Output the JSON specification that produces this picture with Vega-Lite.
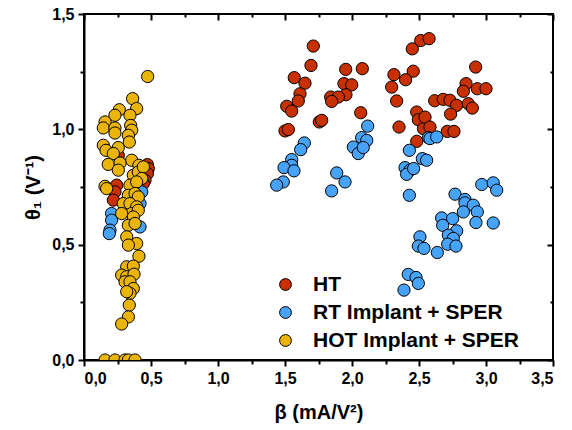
{
  "$schema": "https://vega.github.io/schema/vega-lite/v6.json",
  "width": 469,
  "height": 346,
  "autosize": "none",
  "padding": {"left": 84, "top": 14, "right": 19, "bottom": 70},
  "config": {
    "font": "Liberation Sans",
    "view": {"stroke": "black", "strokeWidth": 2},
    "axis": {
      "grid": false,
      "domainColor": "black",
      "domainWidth": 2,
      "tickColor": "black",
      "tickWidth": 2,
      "labelColor": "black",
      "labelFont": "Liberation Sans",
      "labelFontWeight": "bold",
      "labelFontSize": 16,
      "titleFont": "Liberation Sans",
      "titleFontWeight": "bold",
      "titleFontSize": 20,
      "titleColor": "black"
    }
  },
  "data": {"values": [
    {"beta": 1.711, "theta": 1.361, "group": "HT"},
    {"beta": 1.694, "theta": 1.277, "group": "HT"},
    {"beta": 1.569, "theta": 1.224, "group": "HT"},
    {"beta": 1.649, "theta": 1.200, "group": "HT"},
    {"beta": 1.612, "theta": 1.154, "group": "HT"},
    {"beta": 1.599, "theta": 1.123, "group": "HT"},
    {"beta": 1.513, "theta": 1.100, "group": "HT"},
    {"beta": 1.550, "theta": 1.079, "group": "HT"},
    {"beta": 1.500, "theta": 0.993, "group": "HT"},
    {"beta": 1.525, "theta": 0.999, "group": "HT"},
    {"beta": 1.756, "theta": 1.032, "group": "HT"},
    {"beta": 1.774, "theta": 1.039, "group": "HT"},
    {"beta": 1.953, "theta": 1.260, "group": "HT"},
    {"beta": 2.077, "theta": 1.263, "group": "HT"},
    {"beta": 1.940, "theta": 1.198, "group": "HT"},
    {"beta": 1.998, "theta": 1.193, "group": "HT"},
    {"beta": 1.955, "theta": 1.150, "group": "HT"},
    {"beta": 1.841, "theta": 1.140, "group": "HT"},
    {"beta": 1.898, "theta": 1.140, "group": "HT"},
    {"beta": 1.848, "theta": 1.121, "group": "HT"},
    {"beta": 2.065, "theta": 1.072, "group": "HT"},
    {"beta": 2.313, "theta": 1.237, "group": "HT"},
    {"beta": 2.457, "theta": 1.252, "group": "HT"},
    {"beta": 2.400, "theta": 1.215, "group": "HT"},
    {"beta": 2.296, "theta": 1.183, "group": "HT"},
    {"beta": 2.333, "theta": 1.123, "group": "HT"},
    {"beta": 2.351, "theta": 1.010, "group": "HT"},
    {"beta": 2.450, "theta": 1.349, "group": "HT"},
    {"beta": 2.513, "theta": 1.385, "group": "HT"},
    {"beta": 2.575, "theta": 1.393, "group": "HT"},
    {"beta": 2.483, "theta": 1.075, "group": "HT"},
    {"beta": 2.495, "theta": 1.042, "group": "HT"},
    {"beta": 2.533, "theta": 1.003, "group": "HT"},
    {"beta": 2.483, "theta": 0.948, "group": "HT"},
    {"beta": 2.923, "theta": 1.270, "group": "HT"},
    {"beta": 2.851, "theta": 1.198, "group": "HT"},
    {"beta": 2.831, "theta": 1.165, "group": "HT"},
    {"beta": 2.935, "theta": 1.176, "group": "HT"},
    {"beta": 3.000, "theta": 1.176, "group": "HT"},
    {"beta": 2.617, "theta": 1.124, "group": "HT"},
    {"beta": 2.681, "theta": 1.130, "group": "HT"},
    {"beta": 2.731, "theta": 1.126, "group": "HT"},
    {"beta": 2.781, "theta": 1.104, "group": "HT"},
    {"beta": 2.868, "theta": 1.111, "group": "HT"},
    {"beta": 2.898, "theta": 1.092, "group": "HT"},
    {"beta": 2.736, "theta": 1.066, "group": "HT"},
    {"beta": 2.545, "theta": 1.053, "group": "HT"},
    {"beta": 2.582, "theta": 1.010, "group": "HT"},
    {"beta": 2.711, "theta": 0.991, "group": "HT"},
    {"beta": 2.761, "theta": 0.991, "group": "HT"},
    {"beta": 0.473, "theta": 0.847, "group": "HT"},
    {"beta": 0.480, "theta": 0.830, "group": "HT"},
    {"beta": 0.473, "theta": 0.808, "group": "HT"},
    {"beta": 0.455, "theta": 0.779, "group": "HT"},
    {"beta": 0.244, "theta": 0.758, "group": "HT"},
    {"beta": 0.231, "theta": 0.729, "group": "HT"},
    {"beta": 0.219, "theta": 0.693, "group": "HT"},
    {"beta": 0.256, "theta": 0.887, "group": "HT"},
    {"beta": 0.443, "theta": 0.765, "group": "HT"},
    {"beta": 2.117, "theta": 1.014, "group": "RT Implant + SPER"},
    {"beta": 2.072, "theta": 0.964, "group": "RT Implant + SPER"},
    {"beta": 2.110, "theta": 0.952, "group": "RT Implant + SPER"},
    {"beta": 2.010, "theta": 0.923, "group": "RT Implant + SPER"},
    {"beta": 2.047, "theta": 0.895, "group": "RT Implant + SPER"},
    {"beta": 2.084, "theta": 0.921, "group": "RT Implant + SPER"},
    {"beta": 1.644, "theta": 0.941, "group": "RT Implant + SPER"},
    {"beta": 1.617, "theta": 0.912, "group": "RT Implant + SPER"},
    {"beta": 1.550, "theta": 0.869, "group": "RT Implant + SPER"},
    {"beta": 1.550, "theta": 0.844, "group": "RT Implant + SPER"},
    {"beta": 1.493, "theta": 0.834, "group": "RT Implant + SPER"},
    {"beta": 1.567, "theta": 0.820, "group": "RT Implant + SPER"},
    {"beta": 1.487, "theta": 0.772, "group": "RT Implant + SPER"},
    {"beta": 1.438, "theta": 0.758, "group": "RT Implant + SPER"},
    {"beta": 1.886, "theta": 0.811, "group": "RT Implant + SPER"},
    {"beta": 1.948, "theta": 0.772, "group": "RT Implant + SPER"},
    {"beta": 1.848, "theta": 0.733, "group": "RT Implant + SPER"},
    {"beta": 2.428, "theta": 0.909, "group": "RT Implant + SPER"},
    {"beta": 2.396, "theta": 0.834, "group": "RT Implant + SPER"},
    {"beta": 2.433, "theta": 0.823, "group": "RT Implant + SPER"},
    {"beta": 2.408, "theta": 0.805, "group": "RT Implant + SPER"},
    {"beta": 2.525, "theta": 0.873, "group": "RT Implant + SPER"},
    {"beta": 2.428, "theta": 0.714, "group": "RT Implant + SPER"},
    {"beta": 2.570, "theta": 0.964, "group": "RT Implant + SPER"},
    {"beta": 2.582, "theta": 0.960, "group": "RT Implant + SPER"},
    {"beta": 2.632, "theta": 0.967, "group": "RT Implant + SPER"},
    {"beta": 2.557, "theta": 0.866, "group": "RT Implant + SPER"},
    {"beta": 2.460, "theta": 0.830, "group": "RT Implant + SPER"},
    {"beta": 2.968, "theta": 0.761, "group": "RT Implant + SPER"},
    {"beta": 3.054, "theta": 0.768, "group": "RT Implant + SPER"},
    {"beta": 3.080, "theta": 0.736, "group": "RT Implant + SPER"},
    {"beta": 2.769, "theta": 0.719, "group": "RT Implant + SPER"},
    {"beta": 2.843, "theta": 0.696, "group": "RT Implant + SPER"},
    {"beta": 2.843, "theta": 0.681, "group": "RT Implant + SPER"},
    {"beta": 2.905, "theta": 0.671, "group": "RT Implant + SPER"},
    {"beta": 2.831, "theta": 0.642, "group": "RT Implant + SPER"},
    {"beta": 2.935, "theta": 0.642, "group": "RT Implant + SPER"},
    {"beta": 2.925, "theta": 0.596, "group": "RT Implant + SPER"},
    {"beta": 3.054, "theta": 0.594, "group": "RT Implant + SPER"},
    {"beta": 2.669, "theta": 0.616, "group": "RT Implant + SPER"},
    {"beta": 2.751, "theta": 0.613, "group": "RT Implant + SPER"},
    {"beta": 2.677, "theta": 0.584, "group": "RT Implant + SPER"},
    {"beta": 2.781, "theta": 0.560, "group": "RT Implant + SPER"},
    {"beta": 2.719, "theta": 0.541, "group": "RT Implant + SPER"},
    {"beta": 2.756, "theta": 0.527, "group": "RT Implant + SPER"},
    {"beta": 2.507, "theta": 0.534, "group": "RT Implant + SPER"},
    {"beta": 2.495, "theta": 0.494, "group": "RT Implant + SPER"},
    {"beta": 2.537, "theta": 0.484, "group": "RT Implant + SPER"},
    {"beta": 2.637, "theta": 0.466, "group": "RT Implant + SPER"},
    {"beta": 2.714, "theta": 0.502, "group": "RT Implant + SPER"},
    {"beta": 2.776, "theta": 0.494, "group": "RT Implant + SPER"},
    {"beta": 2.420, "theta": 0.371, "group": "RT Implant + SPER"},
    {"beta": 2.478, "theta": 0.358, "group": "RT Implant + SPER"},
    {"beta": 2.495, "theta": 0.332, "group": "RT Implant + SPER"},
    {"beta": 2.388, "theta": 0.303, "group": "RT Implant + SPER"},
    {"beta": 0.206, "theta": 0.635, "group": "RT Implant + SPER"},
    {"beta": 0.206, "theta": 0.606, "group": "RT Implant + SPER"},
    {"beta": 0.194, "theta": 0.563, "group": "RT Implant + SPER"},
    {"beta": 0.189, "theta": 0.548, "group": "RT Implant + SPER"},
    {"beta": 0.431, "theta": 0.729, "group": "RT Implant + SPER"},
    {"beta": 0.418, "theta": 0.678, "group": "RT Implant + SPER"},
    {"beta": 0.418, "theta": 0.577, "group": "RT Implant + SPER"},
    {"beta": 0.475, "theta": 1.229, "group": "HOT Implant + SPER"},
    {"beta": 0.363, "theta": 1.133, "group": "HOT Implant + SPER"},
    {"beta": 0.393, "theta": 1.090, "group": "HOT Implant + SPER"},
    {"beta": 0.264, "theta": 1.085, "group": "HOT Implant + SPER"},
    {"beta": 0.231, "theta": 1.061, "group": "HOT Implant + SPER"},
    {"beta": 0.343, "theta": 1.061, "group": "HOT Implant + SPER"},
    {"beta": 0.157, "theta": 1.032, "group": "HOT Implant + SPER"},
    {"beta": 0.144, "theta": 1.006, "group": "HOT Implant + SPER"},
    {"beta": 0.231, "theta": 1.006, "group": "HOT Implant + SPER"},
    {"beta": 0.231, "theta": 0.984, "group": "HOT Implant + SPER"},
    {"beta": 0.348, "theta": 1.017, "group": "HOT Implant + SPER"},
    {"beta": 0.356, "theta": 0.996, "group": "HOT Implant + SPER"},
    {"beta": 0.331, "theta": 0.974, "group": "HOT Implant + SPER"},
    {"beta": 0.338, "theta": 0.945, "group": "HOT Implant + SPER"},
    {"beta": 0.144, "theta": 0.931, "group": "HOT Implant + SPER"},
    {"beta": 0.164, "theta": 0.909, "group": "HOT Implant + SPER"},
    {"beta": 0.256, "theta": 0.921, "group": "HOT Implant + SPER"},
    {"beta": 0.219, "theta": 0.895, "group": "HOT Implant + SPER"},
    {"beta": 0.356, "theta": 0.866, "group": "HOT Implant + SPER"},
    {"beta": 0.410, "theta": 0.844, "group": "HOT Implant + SPER"},
    {"beta": 0.181, "theta": 0.848, "group": "HOT Implant + SPER"},
    {"beta": 0.269, "theta": 0.854, "group": "HOT Implant + SPER"},
    {"beta": 0.256, "theta": 0.823, "group": "HOT Implant + SPER"},
    {"beta": 0.368, "theta": 0.801, "group": "HOT Implant + SPER"},
    {"beta": 0.405, "theta": 0.815, "group": "HOT Implant + SPER"},
    {"beta": 0.443, "theta": 0.837, "group": "HOT Implant + SPER"},
    {"beta": 0.157, "theta": 0.753, "group": "HOT Implant + SPER"},
    {"beta": 0.169, "theta": 0.743, "group": "HOT Implant + SPER"},
    {"beta": 0.343, "theta": 0.758, "group": "HOT Implant + SPER"},
    {"beta": 0.431, "theta": 0.787, "group": "HOT Implant + SPER"},
    {"beta": 0.393, "theta": 0.772, "group": "HOT Implant + SPER"},
    {"beta": 0.331, "theta": 0.714, "group": "HOT Implant + SPER"},
    {"beta": 0.381, "theta": 0.722, "group": "HOT Implant + SPER"},
    {"beta": 0.405, "theta": 0.707, "group": "HOT Implant + SPER"},
    {"beta": 0.293, "theta": 0.678, "group": "HOT Implant + SPER"},
    {"beta": 0.343, "theta": 0.678, "group": "HOT Implant + SPER"},
    {"beta": 0.393, "theta": 0.664, "group": "HOT Implant + SPER"},
    {"beta": 0.356, "theta": 0.635, "group": "HOT Implant + SPER"},
    {"beta": 0.405, "theta": 0.649, "group": "HOT Implant + SPER"},
    {"beta": 0.281, "theta": 0.635, "group": "HOT Implant + SPER"},
    {"beta": 0.368, "theta": 0.620, "group": "HOT Implant + SPER"},
    {"beta": 0.331, "theta": 0.584, "group": "HOT Implant + SPER"},
    {"beta": 0.381, "theta": 0.592, "group": "HOT Implant + SPER"},
    {"beta": 0.319, "theta": 0.534, "group": "HOT Implant + SPER"},
    {"beta": 0.393, "theta": 0.505, "group": "HOT Implant + SPER"},
    {"beta": 0.331, "theta": 0.498, "group": "HOT Implant + SPER"},
    {"beta": 0.410, "theta": 0.450, "group": "HOT Implant + SPER"},
    {"beta": 0.319, "theta": 0.404, "group": "HOT Implant + SPER"},
    {"beta": 0.368, "theta": 0.407, "group": "HOT Implant + SPER"},
    {"beta": 0.281, "theta": 0.368, "group": "HOT Implant + SPER"},
    {"beta": 0.319, "theta": 0.361, "group": "HOT Implant + SPER"},
    {"beta": 0.373, "theta": 0.372, "group": "HOT Implant + SPER"},
    {"beta": 0.306, "theta": 0.339, "group": "HOT Implant + SPER"},
    {"beta": 0.343, "theta": 0.339, "group": "HOT Implant + SPER"},
    {"beta": 0.368, "theta": 0.310, "group": "HOT Implant + SPER"},
    {"beta": 0.343, "theta": 0.289, "group": "HOT Implant + SPER"},
    {"beta": 0.319, "theta": 0.296, "group": "HOT Implant + SPER"},
    {"beta": 0.338, "theta": 0.238, "group": "HOT Implant + SPER"},
    {"beta": 0.331, "theta": 0.187, "group": "HOT Implant + SPER"},
    {"beta": 0.281, "theta": 0.156, "group": "HOT Implant + SPER"},
    {"beta": 0.157, "theta": 0.0, "group": "HOT Implant + SPER"},
    {"beta": 0.231, "theta": 0.0, "group": "HOT Implant + SPER"},
    {"beta": 0.306, "theta": 0.0, "group": "HOT Implant + SPER"},
    {"beta": 0.331, "theta": 0.0, "group": "HOT Implant + SPER"},
    {"beta": 0.381, "theta": 0.0, "group": "HOT Implant + SPER"}
  ]},
  "layer": [
    {
      "mark": {"type": "point", "opacity": 0},
      "encoding": {
        "x": {"field": "beta", "type": "quantitative", "scale": {"domain": [0, 3.5], "nice": false, "zero": false},
          "axis": {"orient": "top", "title": null, "labels": false, "domain": false,
            "values": [0, 0.25, 0.5, 0.75, 1, 1.25, 1.5, 1.75, 2, 2.25, 2.5, 2.75, 3, 3.25, 3.5],
            "tickSize": {"condition": {"test": "datum.value % 0.5 === 0", "value": -6}, "value": -3}}},
        "y": {"field": "theta", "type": "quantitative", "scale": {"domain": [0, 1.5], "nice": false, "zero": false},
          "axis": {"orient": "right", "title": null, "labels": false, "domain": false,
            "values": [0, 0.25, 0.5, 0.75, 1, 1.25, 1.5],
            "tickSize": {"condition": {"test": "datum.value % 0.5 === 0", "value": -6}, "value": -3}}}
      }
    },
    {
      "mark": {"type": "circle", "size": 150, "opacity": 1, "stroke": "black", "strokeWidth": 1, "clip": true},
      "encoding": {
        "x": {"field": "beta", "type": "quantitative", "scale": {"domain": [0, 3.5], "nice": false, "zero": false},
          "axis": {"orient": "bottom", "title": "β (mA/V²)",
            "values": [0, 0.25, 0.5, 0.75, 1, 1.25, 1.5, 1.75, 2, 2.25, 2.5, 2.75, 3, 3.25, 3.5],
            "labelExpr": "datum.value % 0.5 === 0 ? replace(format(datum.value, '.1f'), '.', ',') : ''",
            "labelPadding": 4, "titlePadding": 16,
            "tickSize": {"condition": {"test": "datum.value % 0.5 === 0", "value": 6}, "value": 4}}},
        "y": {"field": "theta", "type": "quantitative", "scale": {"domain": [0, 1.5], "nice": false, "zero": false},
          "axis": {"orient": "left", "title": "θ₁ (V⁻¹)",
            "values": [0, 0.25, 0.5, 0.75, 1, 1.25, 1.5],
            "labelExpr": "datum.value % 0.5 === 0 ? replace(format(datum.value, '.1f'), '.', ',') : ''",
            "labelPadding": 4, "titlePadding": 8,
            "tickSize": {"condition": {"test": "datum.value % 0.5 === 0", "value": 6}, "value": 4}}},
        "color": {"field": "group", "type": "nominal",
          "scale": {"domain": ["HT", "RT Implant + SPER", "HOT Implant + SPER"], "range": ["#C93000", "#47A3F7", "#EBB408"]},
          "legend": {"orient": "none", "legendX": 191, "legendY": 260, "title": null,
            "labelFontSize": 21, "labelFontWeight": "bold", "labelFont": "Liberation Sans", "labelColor": "black",
            "labelLimit": 0,
            "symbolType": "circle", "symbolSize": 140, "symbolStrokeColor": "black", "symbolStrokeWidth": 1,
            "symbolOpacity": 1, "rowPadding": 6, "labelOffset": 17}}
      }
    }
  ],
  "resolve": {"axis": {"x": "independent", "y": "independent"}}
}
